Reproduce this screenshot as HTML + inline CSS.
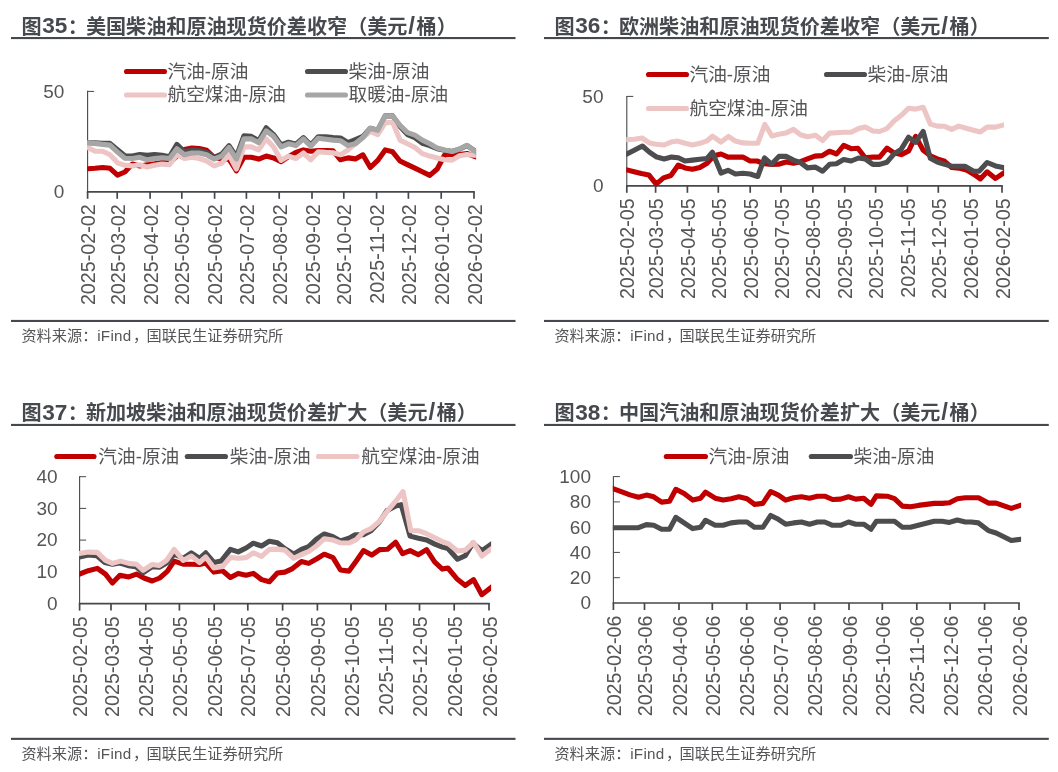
<!DOCTYPE html><html lang="zh"><head><meta charset="utf-8"><title>charts</title><style>
html,body{margin:0;padding:0;background:#fff;}svg{display:block;}
text{font-family:"Liberation Sans", "Noto Sans CJK SC", sans-serif;fill:#555558;}
.t{font-weight:bold;font-size:20.1px;fill:#46494e;}
.t .n{font-size:22.6px;}.t .sl{letter-spacing:1.6px;font-size:24px;}
.lg{font-size:18.7px;}
.yl{font-size:19px;text-anchor:end;}
.xl{font-size:19.7px;text-anchor:end;}
.src{font-size:15.2px;}.la{letter-spacing:0.3px;}
.ln{fill:none;stroke-width:5.1;stroke-linejoin:round;stroke-linecap:butt;}
</style></head><body>
<svg width="1058" height="772" viewBox="0 0 1058 772">
<rect width="1058" height="772" fill="#fff"/>
<g>
<text class="t" x="21.5" y="33.8">图<tspan class="n" dx="0.6" dy="-0.4">35</tspan><tspan dy="0.4" dx="0.4">：</tspan><tspan dx="-1.9">美国柴油和原油现货价差收窄（美元<tspan class="sl" dx="0.9">/</tspan>桶）</tspan></text>
<rect x="11.0" y="37.0" width="504.5" height="2.1" fill="#45484c"/>
<clipPath id="cp0"><rect x="87.0" y="51.3" width="389.1" height="141.7"/></clipPath>
<path d="M87.6 90.8 V191.8" stroke="#45484c" stroke-width="1.1" fill="none"/>
<path d="M86.8 191.8 H474.8" stroke="#45484c" stroke-width="1.7" fill="none"/>
<text class="yl" x="64.3" y="198.1">0</text>
<path d="M87.6 91.4 h6.5" stroke="#45484c" stroke-width="1"/>
<text class="yl" x="64.3" y="97.7">50</text>
<g clip-path="url(#cp0)">
<polyline class="ln" points="84.7,168.9 87.7,168.7 95.1,168.3 102.6,167.5 110.0,168.3 117.5,175.1 124.9,172.0 132.3,164.1 139.8,165.9 147.2,164.7 154.6,163.8 162.1,162.6 169.5,162.8 176.9,156.1 184.4,149.6 191.8,148.1 199.2,148.6 206.7,150.3 214.1,157.3 221.6,159.1 229.0,159.1 236.4,170.8 243.9,157.3 251.3,157.3 258.7,159.1 266.2,156.1 273.6,157.9 281.1,161.6 288.5,156.7 295.9,152.4 303.4,149.9 310.8,151.2 318.2,150.5 325.7,150.5 333.1,150.9 340.5,159.8 348.0,157.9 355.4,158.9 362.9,154.8 370.3,167.5 377.7,160.4 385.2,149.9 392.6,151.8 400.0,161.0 407.5,164.6 414.9,168.1 422.3,171.8 429.8,175.4 437.2,169.0 444.6,155.0 452.1,154.3 459.5,154.5 467.0,153.5 474.4,156.3 477.4,157.4" stroke="#c00000"/>
<polyline class="ln" points="84.7,142.4 87.7,142.6 95.1,142.9 102.6,143.4 110.0,143.4 117.5,149.6 124.9,155.7 132.3,156.1 139.8,154.5 147.2,155.4 154.6,154.5 162.1,155.2 169.5,156.7 176.9,144.4 184.4,151.8 191.8,149.9 199.2,150.5 206.7,152.4 214.1,157.3 221.6,154.2 229.0,145.6 236.4,156.7 243.9,135.8 251.3,136.4 258.7,140.7 266.2,127.8 273.6,134.6 281.1,145.0 288.5,142.2 295.9,144.2 303.4,137.6 310.8,145.0 318.2,136.8 325.7,136.8 333.1,137.6 340.5,138.0 348.0,142.6 355.4,139.5 362.9,136.4 370.3,128.2 377.7,130.3 385.2,115.9 392.6,115.9 400.0,126.6 407.5,134.6 414.9,137.6 422.3,143.2 429.8,145.6 437.2,148.7 444.6,150.3 452.1,151.5 459.5,149.2 467.0,145.5 474.4,150.7 477.4,152.8" stroke="#4d4d4f"/>
<polyline class="ln" points="84.7,146.0 87.7,147.5 95.1,151.2 102.6,151.2 110.0,154.8 117.5,162.8 124.9,165.3 132.3,165.9 139.8,164.7 147.2,167.1 154.6,165.3 162.1,164.1 169.5,164.7 176.9,154.8 184.4,158.5 191.8,157.3 199.2,158.5 206.7,161.0 214.1,165.9 221.6,163.4 229.0,154.8 236.4,169.0 243.9,146.9 251.3,146.9 258.7,149.9 266.2,138.9 273.6,146.9 281.1,160.4 288.5,156.1 295.9,158.5 303.4,153.0 310.8,159.8 318.2,151.8 325.7,152.4 333.1,152.8 340.5,154.8 348.0,149.9 355.4,143.8 362.9,137.6 370.3,131.5 377.7,134.6 385.2,122.9 392.6,122.3 400.0,140.1 407.5,143.8 414.9,147.5 422.3,153.6 429.8,156.1 437.2,157.9 444.6,159.8 452.1,160.1 459.5,155.8 467.0,154.6 474.4,155.3 477.4,155.6" stroke="#edc5c5"/>
<polyline class="ln" points="84.7,142.7 87.7,142.9 95.1,143.4 102.6,144.4 110.0,145.1 117.5,152.1 124.9,158.2 132.3,158.5 139.8,157.3 147.2,159.8 154.6,158.5 162.1,157.7 169.5,158.5 176.9,148.7 184.4,154.8 191.8,153.0 199.2,153.0 206.7,154.8 214.1,159.1 221.6,156.1 229.0,147.5 236.4,159.1 243.9,138.9 251.3,138.9 258.7,142.6 266.2,130.9 273.6,136.4 281.1,146.9 288.5,143.8 295.9,145.6 303.4,138.9 310.8,146.2 318.2,138.3 325.7,139.2 333.1,140.1 340.5,140.7 348.0,145.6 355.4,143.8 362.9,137.6 370.3,128.2 377.7,130.3 385.2,115.9 392.6,115.9 400.0,125.4 407.5,132.7 414.9,135.2 422.3,140.1 429.8,143.8 437.2,148.1 444.6,149.9 452.1,151.5 459.5,149.0 467.0,145.3 474.4,150.7 477.4,152.9" stroke="#a6a6a6"/>
</g>
<path d="M87.6 191.8 v7" stroke="#45484c" stroke-width="1.7"/>
<text class="xl" transform="translate(95.1 204.4) rotate(-90)">2025-02-02</text>
<path d="M117.2 191.8 v7" stroke="#45484c" stroke-width="1.7"/>
<text class="xl" transform="translate(124.7 204.4) rotate(-90)">2025-03-02</text>
<path d="M150.1 191.8 v7" stroke="#45484c" stroke-width="1.7"/>
<text class="xl" transform="translate(157.6 204.4) rotate(-90)">2025-04-02</text>
<path d="M181.8 191.8 v7" stroke="#45484c" stroke-width="1.7"/>
<text class="xl" transform="translate(189.3 204.4) rotate(-90)">2025-05-02</text>
<path d="M214.6 191.8 v7" stroke="#45484c" stroke-width="1.7"/>
<text class="xl" transform="translate(222.1 204.4) rotate(-90)">2025-06-02</text>
<path d="M246.4 191.8 v7" stroke="#45484c" stroke-width="1.7"/>
<text class="xl" transform="translate(253.9 204.4) rotate(-90)">2025-07-02</text>
<path d="M279.2 191.8 v7" stroke="#45484c" stroke-width="1.7"/>
<text class="xl" transform="translate(286.7 204.4) rotate(-90)">2025-08-02</text>
<path d="M312.0 191.8 v7" stroke="#45484c" stroke-width="1.7"/>
<text class="xl" transform="translate(319.5 204.4) rotate(-90)">2025-09-02</text>
<path d="M343.8 191.8 v7" stroke="#45484c" stroke-width="1.7"/>
<text class="xl" transform="translate(351.3 204.4) rotate(-90)">2025-10-02</text>
<path d="M376.6 191.8 v7" stroke="#45484c" stroke-width="1.7"/>
<text class="xl" transform="translate(384.1 204.4) rotate(-90)">2025-11-02</text>
<path d="M408.4 191.8 v7" stroke="#45484c" stroke-width="1.7"/>
<text class="xl" transform="translate(415.9 204.4) rotate(-90)">2025-12-02</text>
<path d="M441.2 191.8 v7" stroke="#45484c" stroke-width="1.7"/>
<text class="xl" transform="translate(448.7 204.4) rotate(-90)">2026-01-02</text>
<path d="M474.0 191.8 v7" stroke="#45484c" stroke-width="1.7"/>
<text class="xl" transform="translate(481.5 204.4) rotate(-90)">2026-02-02</text>
<path d="M126.5 71.5 H164.5" stroke="#c00000" stroke-width="5.1" stroke-linecap="round"/>
<text class="lg" x="167.5" y="77.8">汽油-原油</text>
<path d="M307.5 71.5 H345.5" stroke="#4d4d4f" stroke-width="5.1" stroke-linecap="round"/>
<text class="lg" x="348.5" y="77.8">柴油-原油</text>
<path d="M126.5 95.0 H164.5" stroke="#edc5c5" stroke-width="5.1" stroke-linecap="round"/>
<text class="lg" x="167.5" y="101.3">航空煤油-原油</text>
<path d="M307.5 95.0 H345.5" stroke="#a6a6a6" stroke-width="5.1" stroke-linecap="round"/>
<text class="lg" x="348.5" y="101.3">取暖油-原油</text>
<rect x="11.0" y="319.9" width="504.5" height="2.1" fill="#45484c"/>
<text class="src" y="341.0"><tspan x="21.4">资料来源：</tspan><tspan x="97.2" class="la">iFind</tspan><tspan x="132.9">，</tspan><tspan x="146.6">国联民生证券研究所</tspan></text>
</g>
<g>
<text class="t" x="554.5" y="33.8">图<tspan class="n" dx="0.6" dy="-0.4">36</tspan><tspan dy="0.4" dx="0.4">：</tspan><tspan dx="-1.9">欧洲柴油和原油现货价差收窄（美元<tspan class="sl" dx="0.9">/</tspan>桶）</tspan></text>
<rect x="544.0" y="37.0" width="504.8" height="2.1" fill="#45484c"/>
<clipPath id="cp1"><rect x="626.2" y="56.4" width="377.9" height="130.6"/></clipPath>
<path d="M626.8 95.9 V185.8" stroke="#45484c" stroke-width="1.1" fill="none"/>
<path d="M626.0 185.8 H1002.8" stroke="#45484c" stroke-width="1.7" fill="none"/>
<text class="yl" x="603.5" y="192.1">0</text>
<path d="M626.8 96.4 h6.5" stroke="#45484c" stroke-width="1"/>
<text class="yl" x="603.5" y="102.7">50</text>
<g clip-path="url(#cp1)">
<polyline class="ln" points="623.9,169.2 626.9,169.9 634.1,171.8 641.4,173.6 648.8,174.9 656.2,184.1 663.5,177.9 670.9,175.5 678.3,165.0 685.0,167.9 692.4,169.3 699.8,167.5 707.1,163.2 713.9,155.8 721.0,154.0 728.0,157.1 735.4,157.1 742.8,157.1 750.1,161.0 757.1,161.0 764.5,163.8 771.5,164.4 778.6,164.2 786.0,162.0 793.4,163.2 800.5,161.7 807.5,158.9 814.9,156.1 822.2,155.6 829.4,151.2 836.6,154.0 843.7,145.4 851.1,148.7 857.9,148.2 865.2,157.7 872.8,157.1 879.6,157.1 887.0,148.2 894.3,153.1 901.3,154.6 908.7,150.9 915.6,136.4 923.2,150.3 930.3,155.8 937.3,158.9 944.7,161.3 951.7,167.5 958.8,168.1 966.2,169.9 973.6,174.2 980.3,178.9 987.1,171.8 995.5,178.5 1003.1,173.4 1006.1,171.4" stroke="#c00000"/>
<polyline class="ln" points="623.9,155.5 626.9,154.0 634.7,149.9 642.4,146.0 649.4,152.1 656.8,157.1 664.1,158.9 671.5,157.1 678.3,157.7 685.0,161.0 692.4,160.1 699.8,159.3 707.1,158.5 712.4,152.1 721.0,173.0 728.0,170.3 735.4,174.0 742.8,173.3 750.1,174.0 757.7,176.5 764.5,158.0 771.5,164.2 778.9,156.4 786.0,156.4 793.4,160.1 800.5,162.6 807.5,167.9 815.2,167.1 822.6,171.2 829.6,164.2 836.4,163.8 843.7,159.5 851.1,161.0 858.5,158.0 865.2,158.9 872.8,164.4 879.6,164.4 887.0,162.2 894.3,153.6 901.1,149.4 908.5,137.2 915.6,142.3 923.2,131.5 930.3,158.3 937.3,162.0 944.7,164.4 951.7,166.3 958.8,166.3 965.0,166.3 973.6,171.2 979.1,171.2 987.1,162.5 995.5,165.9 1003.0,167.5 1006.0,168.1" stroke="#4d4d4f"/>
<polyline class="ln" points="623.9,139.8 626.9,139.6 634.1,139.2 642.0,138.0 649.4,142.9 656.2,144.2 664.1,145.0 670.9,142.1 677.7,141.1 685.0,143.3 692.4,145.0 699.8,143.3 707.1,140.8 712.4,136.2 721.0,142.1 728.4,136.4 735.4,141.1 742.8,142.9 750.1,143.3 757.7,143.3 764.9,124.5 771.9,135.9 778.6,134.3 785.8,133.1 793.4,129.4 800.5,134.7 807.5,136.8 815.5,135.2 822.6,140.5 829.6,133.1 836.4,132.7 843.7,132.2 851.1,132.2 858.5,128.6 865.2,127.0 872.8,131.0 879.6,131.5 887.0,128.6 894.3,120.8 901.3,115.3 908.7,108.2 915.8,109.1 923.2,107.3 930.3,124.1 937.3,126.1 944.7,126.3 951.7,129.4 958.8,126.1 966.2,128.2 973.6,130.3 980.3,131.9 987.1,127.1 995.5,127.1 1003.0,125.1 1006.0,124.3" stroke="#edc5c5"/>
</g>
<path d="M626.8 185.8 v7" stroke="#45484c" stroke-width="1.7"/>
<text class="xl" transform="translate(634.3 198.4) rotate(-90)">2025-02-05</text>
<path d="M655.6 185.8 v7" stroke="#45484c" stroke-width="1.7"/>
<text class="xl" transform="translate(663.1 198.4) rotate(-90)">2025-03-05</text>
<path d="M687.4 185.8 v7" stroke="#45484c" stroke-width="1.7"/>
<text class="xl" transform="translate(694.9 198.4) rotate(-90)">2025-04-05</text>
<path d="M718.3 185.8 v7" stroke="#45484c" stroke-width="1.7"/>
<text class="xl" transform="translate(725.8 198.4) rotate(-90)">2025-05-05</text>
<path d="M750.2 185.8 v7" stroke="#45484c" stroke-width="1.7"/>
<text class="xl" transform="translate(757.7 198.4) rotate(-90)">2025-06-05</text>
<path d="M781.0 185.8 v7" stroke="#45484c" stroke-width="1.7"/>
<text class="xl" transform="translate(788.5 198.4) rotate(-90)">2025-07-05</text>
<path d="M812.9 185.8 v7" stroke="#45484c" stroke-width="1.7"/>
<text class="xl" transform="translate(820.4 198.4) rotate(-90)">2025-08-05</text>
<path d="M844.7 185.8 v7" stroke="#45484c" stroke-width="1.7"/>
<text class="xl" transform="translate(852.2 198.4) rotate(-90)">2025-09-05</text>
<path d="M875.6 185.8 v7" stroke="#45484c" stroke-width="1.7"/>
<text class="xl" transform="translate(883.1 198.4) rotate(-90)">2025-10-05</text>
<path d="M907.4 185.8 v7" stroke="#45484c" stroke-width="1.7"/>
<text class="xl" transform="translate(914.9 198.4) rotate(-90)">2025-11-05</text>
<path d="M938.3 185.8 v7" stroke="#45484c" stroke-width="1.7"/>
<text class="xl" transform="translate(945.8 198.4) rotate(-90)">2025-12-05</text>
<path d="M970.1 185.8 v7" stroke="#45484c" stroke-width="1.7"/>
<text class="xl" transform="translate(977.6 198.4) rotate(-90)">2026-01-05</text>
<path d="M1002.0 185.8 v7" stroke="#45484c" stroke-width="1.7"/>
<text class="xl" transform="translate(1009.5 198.4) rotate(-90)">2026-02-05</text>
<path d="M648.5 74.5 H686.5" stroke="#c00000" stroke-width="5.1" stroke-linecap="round"/>
<text class="lg" x="689.5" y="80.8">汽油-原油</text>
<path d="M826.5 74.5 H864.5" stroke="#4d4d4f" stroke-width="5.1" stroke-linecap="round"/>
<text class="lg" x="867.5" y="80.8">柴油-原油</text>
<path d="M648.5 108.5 H686.5" stroke="#edc5c5" stroke-width="5.1" stroke-linecap="round"/>
<text class="lg" x="689.5" y="114.8">航空煤油-原油</text>
<rect x="544.0" y="319.9" width="504.8" height="2.1" fill="#45484c"/>
<text class="src" y="341.0"><tspan x="554.4">资料来源：</tspan><tspan x="630.2" class="la">iFind</tspan><tspan x="665.9">，</tspan><tspan x="679.6">国联民生证券研究所</tspan></text>
</g>
<g>
<text class="t" x="21.5" y="420.1">图<tspan class="n" dx="0.6" dy="-0.4">37</tspan><tspan dy="0.4" dx="0.4">：</tspan><tspan dx="-1.9">新加坡柴油和原油现货价差扩大（美元<tspan class="sl" dx="0.9">/</tspan>桶）</tspan></text>
<rect x="11.0" y="423.9" width="504.5" height="2.1" fill="#45484c"/>
<clipPath id="cp2"><rect x="79.0" y="436.7" width="412.1" height="168.1"/></clipPath>
<path d="M79.6 476.2 V603.6" stroke="#45484c" stroke-width="1.1" fill="none"/>
<path d="M78.8 603.6 H489.8" stroke="#45484c" stroke-width="1.7" fill="none"/>
<text class="yl" x="57.6" y="609.9">0</text>
<path d="M79.6 571.9 h6.5" stroke="#45484c" stroke-width="1"/>
<text class="yl" x="57.6" y="578.2">10</text>
<path d="M79.6 540.1 h6.5" stroke="#45484c" stroke-width="1"/>
<text class="yl" x="57.6" y="546.4">20</text>
<path d="M79.6 508.4 h6.5" stroke="#45484c" stroke-width="1"/>
<text class="yl" x="57.6" y="514.7">30</text>
<path d="M79.6 476.7 h6.5" stroke="#45484c" stroke-width="1"/>
<text class="yl" x="57.6" y="483.0">40</text>
<g clip-path="url(#cp2)">
<polyline class="ln" points="76.4,575.3 79.4,574.1 88.3,570.7 97.3,568.4 105.5,574.1 112.4,583.0 119.9,575.2 128.8,576.9 136.4,574.1 143.9,578.0 152.2,581.0 159.7,578.0 167.3,571.4 174.1,561.1 183.1,564.2 191.3,564.2 199.5,564.5 205.7,563.1 213.9,572.1 222.5,570.7 230.4,577.5 238.2,573.4 246.1,575.2 253.3,573.4 261.6,579.6 269.4,581.7 277.4,573.0 284.9,572.1 292.5,568.6 301.4,561.5 308.7,563.4 316.5,559.0 324.3,554.2 333.0,557.6 340.5,570.0 349.0,571.1 356.3,560.9 363.4,550.6 371.7,555.1 379.6,549.6 387.5,549.2 395.7,542.3 402.6,553.7 410.1,550.6 418.4,554.7 426.6,549.6 434.8,562.2 442.4,569.1 447.9,568.0 456.8,578.7 465.3,585.4 473.6,579.6 481.8,594.7 490.7,587.8 493.7,585.5" stroke="#c00000"/>
<polyline class="ln" points="76.4,557.7 79.4,557.0 88.3,554.9 96.6,555.6 104.8,562.5 112.4,564.2 119.9,563.1 128.2,565.6 135.7,566.6 143.2,572.7 152.2,566.6 159.7,567.2 167.3,562.5 174.1,554.2 183.1,558.3 191.3,552.8 199.5,558.3 205.7,552.8 213.9,562.5 221.1,561.1 230.4,549.4 238.2,551.9 246.1,548.0 253.3,543.2 261.6,546.0 269.4,541.2 277.4,542.8 284.9,548.7 293.8,554.2 301.4,549.4 308.7,546.7 316.5,539.1 324.3,534.0 333.0,536.8 340.5,540.9 349.0,538.2 355.2,534.8 363.4,534.8 371.0,530.7 379.6,521.7 386.8,510.8 395.7,506.0 401.2,504.6 410.1,536.1 418.4,538.2 426.6,540.0 434.8,544.1 442.4,547.1 447.9,548.5 457.5,559.2 465.3,555.6 472.9,543.2 481.8,550.8 490.7,544.6 493.7,542.5" stroke="#4d4d4f"/>
<polyline class="ln" points="76.4,554.0 79.4,553.5 88.3,552.1 97.3,552.4 105.5,560.4 112.4,563.4 120.6,561.1 128.8,563.4 136.4,564.2 143.2,570.3 152.2,564.5 159.0,565.6 166.6,560.4 174.1,549.4 183.1,560.4 191.3,556.0 199.5,562.5 205.7,557.0 213.9,567.9 222.5,566.6 230.4,557.4 238.2,558.3 246.1,557.6 253.3,552.8 261.6,556.3 269.4,549.4 277.4,549.1 284.9,550.1 293.8,558.3 301.4,554.6 308.7,551.5 316.5,546.0 324.3,538.7 333.0,540.1 340.5,542.8 349.0,543.0 356.3,539.6 363.4,532.0 371.0,528.6 379.6,521.1 387.5,510.8 395.7,501.2 403.0,491.6 410.8,530.7 418.4,530.7 426.6,533.7 434.8,537.8 442.4,541.6 448.5,543.7 457.5,551.0 465.3,550.1 473.6,542.5 481.8,556.0 490.7,549.4 493.7,547.2" stroke="#edc5c5"/>
</g>
<path d="M79.6 603.6 v7" stroke="#45484c" stroke-width="1.7"/>
<text class="xl" transform="translate(87.1 616.2) rotate(-90)">2025-02-05</text>
<path d="M111.0 603.6 v7" stroke="#45484c" stroke-width="1.7"/>
<text class="xl" transform="translate(118.5 616.2) rotate(-90)">2025-03-05</text>
<path d="M145.8 603.6 v7" stroke="#45484c" stroke-width="1.7"/>
<text class="xl" transform="translate(153.3 616.2) rotate(-90)">2025-04-05</text>
<path d="M179.4 603.6 v7" stroke="#45484c" stroke-width="1.7"/>
<text class="xl" transform="translate(186.9 616.2) rotate(-90)">2025-05-05</text>
<path d="M214.2 603.6 v7" stroke="#45484c" stroke-width="1.7"/>
<text class="xl" transform="translate(221.7 616.2) rotate(-90)">2025-06-05</text>
<path d="M247.8 603.6 v7" stroke="#45484c" stroke-width="1.7"/>
<text class="xl" transform="translate(255.3 616.2) rotate(-90)">2025-07-05</text>
<path d="M282.6 603.6 v7" stroke="#45484c" stroke-width="1.7"/>
<text class="xl" transform="translate(290.1 616.2) rotate(-90)">2025-08-05</text>
<path d="M317.4 603.6 v7" stroke="#45484c" stroke-width="1.7"/>
<text class="xl" transform="translate(324.9 616.2) rotate(-90)">2025-09-05</text>
<path d="M351.0 603.6 v7" stroke="#45484c" stroke-width="1.7"/>
<text class="xl" transform="translate(358.5 616.2) rotate(-90)">2025-10-05</text>
<path d="M385.8 603.6 v7" stroke="#45484c" stroke-width="1.7"/>
<text class="xl" transform="translate(393.3 616.2) rotate(-90)">2025-11-05</text>
<path d="M419.5 603.6 v7" stroke="#45484c" stroke-width="1.7"/>
<text class="xl" transform="translate(427.0 616.2) rotate(-90)">2025-12-05</text>
<path d="M454.2 603.6 v7" stroke="#45484c" stroke-width="1.7"/>
<text class="xl" transform="translate(461.7 616.2) rotate(-90)">2026-01-05</text>
<path d="M489.0 603.6 v7" stroke="#45484c" stroke-width="1.7"/>
<text class="xl" transform="translate(496.5 616.2) rotate(-90)">2026-02-05</text>
<path d="M56.8 456.5 H94.0" stroke="#c00000" stroke-width="5.1" stroke-linecap="round"/>
<text class="lg" x="98.3" y="462.8">汽油-原油</text>
<path d="M187.3 456.5 H225.5" stroke="#4d4d4f" stroke-width="5.1" stroke-linecap="round"/>
<text class="lg" x="229.8" y="462.8">柴油-原油</text>
<path d="M318.5 456.5 H357.0" stroke="#edc5c5" stroke-width="5.1" stroke-linecap="round"/>
<text class="lg" x="361.3" y="462.8">航空煤油-原油</text>
<rect x="11.0" y="737.8" width="504.5" height="2.1" fill="#45484c"/>
<text class="src" y="759.0"><tspan x="21.4">资料来源：</tspan><tspan x="97.2" class="la">iFind</tspan><tspan x="132.9">，</tspan><tspan x="146.6">国联民生证券研究所</tspan></text>
</g>
<g>
<text class="t" x="554.5" y="420.1">图<tspan class="n" dx="0.6" dy="-0.4">38</tspan><tspan dy="0.4" dx="0.4">：</tspan><tspan dx="-1.9">中国汽油和原油现货价差扩大（美元<tspan class="sl" dx="0.9">/</tspan>桶）</tspan></text>
<rect x="544.0" y="423.9" width="504.8" height="2.1" fill="#45484c"/>
<clipPath id="cp3"><rect x="612.8" y="436.7" width="408.3" height="167.5"/></clipPath>
<path d="M613.4 476.2 V603.0" stroke="#45484c" stroke-width="1.1" fill="none"/>
<path d="M612.6 603.0 H1019.8" stroke="#45484c" stroke-width="1.7" fill="none"/>
<text class="yl" x="591.0" y="609.3">0</text>
<path d="M613.4 577.7 h6.5" stroke="#45484c" stroke-width="1"/>
<text class="yl" x="591.0" y="584.0">20</text>
<path d="M613.4 552.4 h6.5" stroke="#45484c" stroke-width="1"/>
<text class="yl" x="591.0" y="558.7">40</text>
<path d="M613.4 527.2 h6.5" stroke="#45484c" stroke-width="1"/>
<text class="yl" x="591.0" y="533.5">60</text>
<path d="M613.4 501.9 h6.5" stroke="#45484c" stroke-width="1"/>
<text class="yl" x="591.0" y="508.2">80</text>
<path d="M613.4 476.6 h6.5" stroke="#45484c" stroke-width="1"/>
<text class="yl" x="591.0" y="482.9">100</text>
<g clip-path="url(#cp3)">
<polyline class="ln" points="610.6,487.8 613.6,488.9 621.9,491.9 629.9,494.9 638.5,497.2 646.4,495.1 653.7,496.8 661.6,502.1 669.5,501.2 675.9,489.3 684.1,493.5 692.7,500.1 700.6,498.2 705.5,492.2 715.2,498.2 723.1,500.1 731.1,498.8 739.0,496.8 747.0,498.8 754.6,504.4 762.8,503.4 770.7,491.5 778.4,495.1 785.6,500.1 793.6,497.8 801.5,496.8 809.5,498.2 817.4,496.2 824.7,496.2 832.6,499.5 840.6,499.1 848.5,496.8 855.8,499.1 863.7,498.2 871.0,504.4 876.3,495.9 887.2,496.2 894.5,498.6 902.4,506.1 910.4,506.8 918.3,505.4 926.2,504.4 934.2,503.4 942.1,503.4 949.4,502.8 957.3,498.8 965.3,497.8 978.5,497.8 988.4,503.1 996.1,503.1 1011.3,508.4 1021.0,505.2 1024.0,504.2" stroke="#c00000"/>
<polyline class="ln" points="610.6,527.7 613.6,527.7 621.9,527.7 629.9,527.7 638.5,527.7 646.4,524.6 653.7,525.3 661.6,529.2 669.5,529.2 675.9,517.3 684.1,522.9 692.7,528.6 700.6,527.3 705.5,520.3 715.2,525.3 723.1,525.3 731.1,522.9 739.0,522.0 747.0,522.0 754.6,527.3 762.8,527.3 770.7,515.4 778.4,519.3 785.6,524.2 793.6,522.9 801.5,522.0 809.5,524.2 817.4,522.0 824.7,522.0 832.6,525.3 840.6,525.3 848.5,522.0 855.8,524.2 863.7,524.2 871.0,529.2 876.3,521.3 887.2,521.3 894.5,521.3 902.4,527.3 910.4,527.3 918.3,525.3 926.2,523.3 934.2,521.3 942.1,521.3 949.4,522.4 957.3,520.0 965.3,522.0 971.2,522.0 978.5,522.9 988.4,530.6 996.1,533.0 1011.3,540.5 1021.0,539.2 1024.0,538.8" stroke="#4d4d4f"/>
</g>
<path d="M613.4 603.0 v7" stroke="#45484c" stroke-width="1.7"/>
<text class="xl" transform="translate(620.9 615.6) rotate(-90)">2025-02-06</text>
<path d="M644.5 603.0 v7" stroke="#45484c" stroke-width="1.7"/>
<text class="xl" transform="translate(652.0 615.6) rotate(-90)">2025-03-06</text>
<path d="M679.0 603.0 v7" stroke="#45484c" stroke-width="1.7"/>
<text class="xl" transform="translate(686.5 615.6) rotate(-90)">2025-04-06</text>
<path d="M712.3 603.0 v7" stroke="#45484c" stroke-width="1.7"/>
<text class="xl" transform="translate(719.8 615.6) rotate(-90)">2025-05-06</text>
<path d="M746.7 603.0 v7" stroke="#45484c" stroke-width="1.7"/>
<text class="xl" transform="translate(754.2 615.6) rotate(-90)">2025-06-06</text>
<path d="M780.1 603.0 v7" stroke="#45484c" stroke-width="1.7"/>
<text class="xl" transform="translate(787.6 615.6) rotate(-90)">2025-07-06</text>
<path d="M814.5 603.0 v7" stroke="#45484c" stroke-width="1.7"/>
<text class="xl" transform="translate(822.0 615.6) rotate(-90)">2025-08-06</text>
<path d="M849.0 603.0 v7" stroke="#45484c" stroke-width="1.7"/>
<text class="xl" transform="translate(856.5 615.6) rotate(-90)">2025-09-06</text>
<path d="M882.3 603.0 v7" stroke="#45484c" stroke-width="1.7"/>
<text class="xl" transform="translate(889.8 615.6) rotate(-90)">2025-10-06</text>
<path d="M916.8 603.0 v7" stroke="#45484c" stroke-width="1.7"/>
<text class="xl" transform="translate(924.3 615.6) rotate(-90)">2025-11-06</text>
<path d="M950.1 603.0 v7" stroke="#45484c" stroke-width="1.7"/>
<text class="xl" transform="translate(957.6 615.6) rotate(-90)">2025-12-06</text>
<path d="M984.6 603.0 v7" stroke="#45484c" stroke-width="1.7"/>
<text class="xl" transform="translate(992.1 615.6) rotate(-90)">2026-01-06</text>
<path d="M1019.0 603.0 v7" stroke="#45484c" stroke-width="1.7"/>
<text class="xl" transform="translate(1026.5 615.6) rotate(-90)">2026-02-06</text>
<path d="M666.3 456.5 H705.5" stroke="#c00000" stroke-width="5.1" stroke-linecap="round"/>
<text class="lg" x="708.5" y="462.8">汽油-原油</text>
<path d="M811.3 456.5 H850.5" stroke="#4d4d4f" stroke-width="5.1" stroke-linecap="round"/>
<text class="lg" x="853.5" y="462.8">柴油-原油</text>
<rect x="544.0" y="737.8" width="504.8" height="2.1" fill="#45484c"/>
<text class="src" y="759.0"><tspan x="554.4">资料来源：</tspan><tspan x="630.2" class="la">iFind</tspan><tspan x="665.9">，</tspan><tspan x="679.6">国联民生证券研究所</tspan></text>
</g>
</svg></body></html>
